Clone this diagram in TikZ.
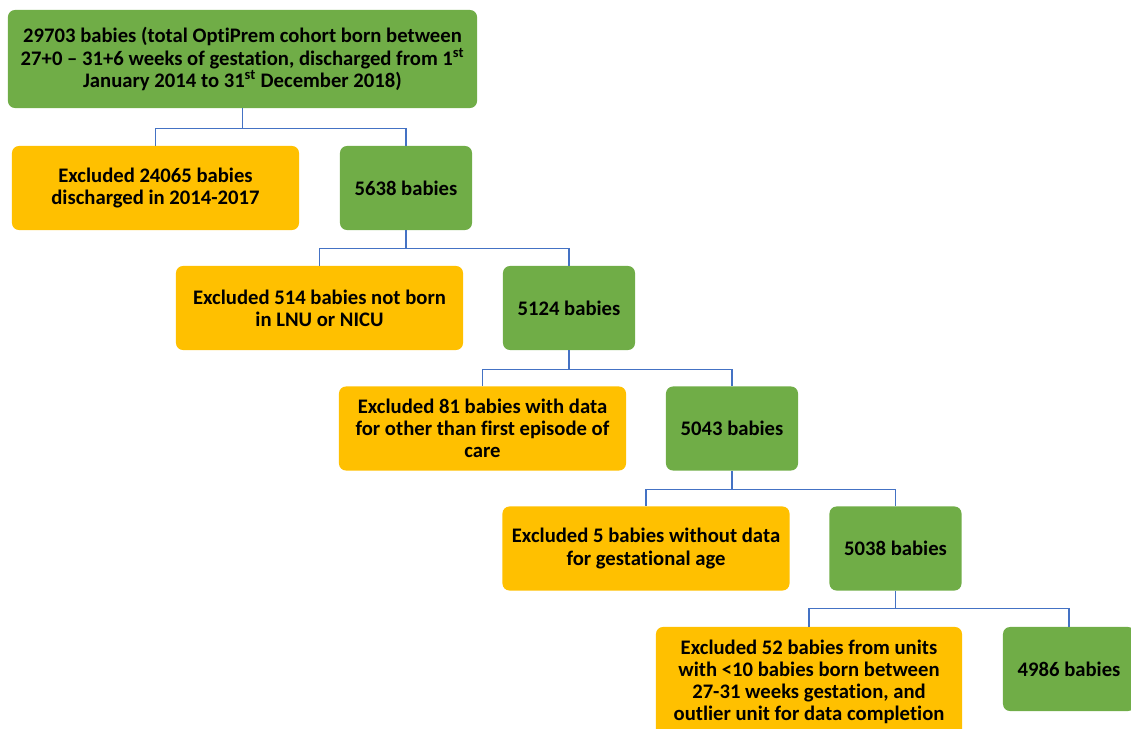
\documentclass[tikz,border=0pt]{standalone}
\usepackage{fontspec}
\setmainfont{Carlito}[Ligatures={NoCommon}]
\definecolor{boxgreen}{HTML}{70AD47}
\definecolor{boxorange}{HTML}{FFC000}
\definecolor{linkblue}{HTML}{4472C4}

\begin{document}
\begin{tikzpicture}
[
	x=0.025cm, y=-0.025cm,
	every node/.style={font=\fontsize{14.7}{15.8}\selectfont\bfseries, align=center, text=black},
	greenbox/.style={rectangle, rounded corners=5pt, fill=boxgreen, minimum width=3.3cm, minimum height=2.1cm},
	orangebox/.style={rectangle, rounded corners=5pt, fill=boxorange, minimum width=7.175cm, minimum height=2.1cm},
	link/.style={draw=linkblue, line width=0.9pt}
]

	\useasboundingbox (0,0) rectangle (1131,729);

	% total cohort
	\node[greenbox, minimum width=11.725cm, minimum height=2.45cm] (total) at (242.5,59)
		{29703 babies (total OptiPrem cohort born between\\
		 27+0 -- 31+6 weeks of gestation, discharged from 1\textsuperscript{st}\\
		 January 2014 to 31\textsuperscript{st} December 2018)};

	% step 1
	\node[orangebox] (excla) at (155.5,188) {Excluded 24065 babies\\discharged in 2014-2017};
	\node[greenbox] (keepa) at (406,188) {5638 babies};

	% step 2
	\node[orangebox] (exclb) at (319.5,308) {Excluded 514 babies not born\\in LNU or NICU};
	\node[greenbox] (keepb) at (569,308) {5124 babies};

	% step 3
	\node[orangebox] (exclc) at (482.5,428.5) {Excluded 81 babies with data\\for other than first episode of\\care};
	\node[greenbox] (keepc) at (732,428.5) {5043 babies};

	% step 4
	\node[orangebox] (excld) at (646,548.5) {Excluded 5 babies without data\\for gestational age};
	\node[greenbox] (keepd) at (895.5,548.5) {5038 babies};

	% step 5
	\node[orangebox, minimum width=7.65cm, minimum height=2.75cm] (excle) at (809,682)
		{Excluded 52 babies from units\\with <10 babies born between\\27-31 weeks gestation, and\\outlier unit for data completion};
	\node[greenbox] (keepe) at (1069,669) {4986 babies};

	% connectors
	\draw[link] (total.south) -- ++(0,20) -| (excla.north);
	\draw[link] (total.south) -- ++(0,20) -| (keepa.north);
	\draw[link] (keepa.south) -- ++(0,18) -| (exclb.north);
	\draw[link] (keepa.south) -- ++(0,18) -| (keepb.north);
	\draw[link] (keepb.south) -- ++(0,19) -| (exclc.north);
	\draw[link] (keepb.south) -- ++(0,19) -| (keepc.north);
	\draw[link] (keepc.south) -- ++(0,19) -| (excld.north);
	\draw[link] (keepc.south) -- ++(0,19) -| (keepd.north);
	\draw[link] (keepd.south) -- ++(0,18) -| (excle.north);
	\draw[link] (keepd.south) -- ++(0,18) -| (keepe.north);

\end{tikzpicture}
\end{document}
